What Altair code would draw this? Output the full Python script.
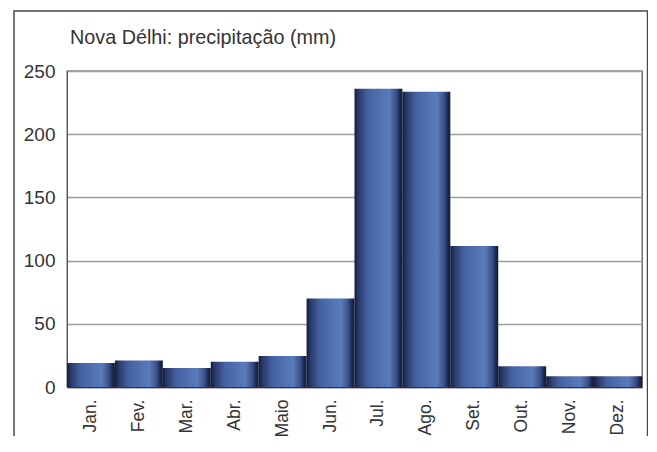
import altair as alt
import pandas as pd

months = ["Jan.", "Fev.", "Mar.", "Abr.", "Maio", "Jun.", "Jul.", "Ago.", "Set.", "Out.", "Nov.", "Dez."]
precip = [19, 21, 15, 20, 24.5, 70, 236, 233.5, 111.5, 16.5, 8.5, 8.5]
y_ticks = [0, 50, 100, 150, 200, 250]
title_text = ["Nova Délhi: precipitação (mm)"]

df = pd.DataFrame({"mes": months, "mm": precip})
title_df = pd.DataFrame({"t": title_text})

FONT = "Liberation Sans"

bar_fill = alt.Gradient(
    gradient="linear",
    x1=0, x2=1, y1=0, y2=0,
    stops=[
        alt.GradientStop(color="#131b36", offset=0),
        alt.GradientStop(color="#28396a", offset=0.08),
        alt.GradientStop(color="#4660a0", offset=0.28),
        alt.GradientStop(color="#5272b2", offset=0.55),
        alt.GradientStop(color="#597bbb", offset=0.72),
        alt.GradientStop(color="#3c5490", offset=0.86),
        alt.GradientStop(color="#1c2850", offset=0.95),
        alt.GradientStop(color="#121a34", offset=1),
    ],
)

bars = alt.Chart(df).mark_bar(fill=bar_fill).encode(
    x=alt.X(
        "mes:N",
        sort=months,
        scale=alt.Scale(paddingInner=0, paddingOuter=0),
        axis=alt.Axis(
            title=None,
            labelAngle=-90,
            labelFontSize=17.5,
            labelFont=FONT,
            labelColor="#333333",
            labelPadding=12,
            ticks=False,
            domain=True,
            domainColor="#333333",
            domainWidth=1.5,
        ),
    ),
    y=alt.Y(
        "mm:Q",
        scale=alt.Scale(domain=[0, 250], nice=False),
        axis=alt.Axis(
            title=None,
            values=y_ticks,
            labelFontSize=19,
            labelFont=FONT,
            labelColor="#333333",
            labelPadding=12,
            ticks=False,
            domain=True,
            domainColor="#555555",
            grid=True,
            gridColor="#9c9c9c",
            gridWidth=1.3,
        ),
    ),
)

frame = alt.Chart(title_df).mark_rect(
    fill=None, stroke="#4a4a4a", strokeWidth=1.5, clip=False
).encode(
    x=alt.value(-53), x2=alt.value(580.5), y=alt.value(-60), y2=alt.value(420)
)

title = alt.Chart(title_df).mark_text(
    align="left", baseline="alphabetic", font=FONT, fontSize=19.8,
    color="#333333", clip=False
).encode(
    text="t:N", x=alt.value(3), y=alt.value(-27)
)

chart = alt.layer(frame, bars, title).properties(
    width=575,
    height=316,
    autosize=alt.AutoSizeParams(type="none"),
    padding={"left": 59, "top": 63, "right": 6, "bottom": 49},
).configure_view(stroke="#555555", strokeWidth=1.3)

chart.save("out.html", embed_options={"renderer": "svg", "actions": False})
